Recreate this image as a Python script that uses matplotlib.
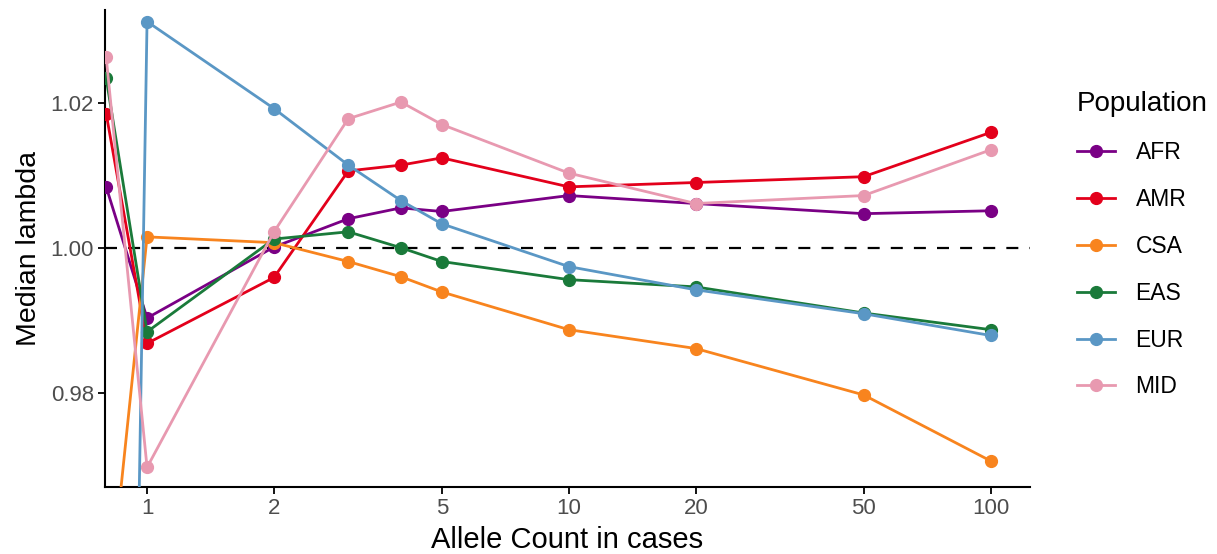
import matplotlib
matplotlib.use("Agg")
import matplotlib.pyplot as plt
from matplotlib.lines import Line2D

plt.rcParams["font.family"] = ["Liberation Sans", "DejaVu Sans"]

# ---- data ----
allele_count = [0.8, 1, 2, 3, 4, 5, 10, 20, 50, 100]
populations = ["AFR", "AMR", "CSA", "EAS", "EUR", "MID"]
colors = ["#7A0085", "#E3001B", "#F8841E", "#1A7A3A", "#5A97C5", "#E899B0"]

afr = [1.0084, 0.9903, 1.0001, 1.0040, 1.0055, 1.0050, 1.0072, 1.0061, 1.0047, 1.0051]
amr = [1.0185, 0.9868, 0.9959, 1.0106, 1.0114, 1.0124, 1.0084, 1.0090, 1.0098, 1.0159]
csa = [0.9472, 1.0015, 1.0007, 0.9981, 0.9960, 0.9939, 0.9887, 0.9861, 0.9797, 0.9706]
eas = [1.0234, 0.9884, 1.0012, 1.0022, 1.0000, 0.9981, 0.9956, 0.9946, 0.9910, 0.9887]
eur = [0.6920, 1.0312, 1.0192, 1.0114, 1.0065, 1.0033, 0.9974, 0.9942, 0.9909, 0.9879]
mid = [1.0263, 0.9697, 1.0022, 1.0178, 1.0201, 1.0170, 1.0103, 1.0061, 1.0072, 1.0135]
series = [afr, amr, csa, eas, eur, mid]

x_ticks = [1, 2, 5, 10, 20, 50, 100]
y_ticks = [0.98, 1.00, 1.02]

fig = plt.figure(figsize=(12.17, 5.54), dpi=100)
ax = fig.add_axes([0.0863, 0.121, 0.7600, 0.861])

ax.axhline(1.0, color="black", lw=1.6, ls=(0, (5.4, 5)), zorder=1)
for name, col, vals in zip(populations, colors, series):
    ax.plot(allele_count, vals, color=col, lw=2.0, marker="o", ms=8.5,
            label=name, zorder=3)

ax.set_xscale("log")
ax.set_xlim(0.795, 124)
ax.set_ylim(0.967, 1.0328)
ax.set_xticks(x_ticks)
ax.set_xticklabels([str(t) for t in x_ticks])
ax.minorticks_off()
ax.set_yticks(y_ticks)
ax.set_yticklabels(["0.98", "1.00", "1.02"])

for side in ["top", "right"]:
    ax.spines[side].set_visible(False)
for side in ["left", "bottom"]:
    ax.spines[side].set_linewidth(1.5)
ax.tick_params(axis="both", length=5, width=1.3, labelsize=16,
               labelcolor="#4D4D4D", pad=3)

ax.set_xlabel("Allele Count in cases", fontsize=21, labelpad=5)
ax.set_ylabel("Median lambda", fontsize=20.5, labelpad=6)

handles = [Line2D([0], [0], color=c, lw=2.0, marker="o", ms=8.5) for c in colors]
leg = fig.legend(handles, populations, loc="upper left",
                 bbox_to_anchor=(0.885, 0.835), frameon=False,
                 borderpad=0, borderaxespad=0,
                 title="Population", title_fontsize=20, fontsize=16.5,
                 handlelength=1.65, labelspacing=1.04, handletextpad=0.9)
leg._legend_box.align = "left"

fig.savefig("out.png", dpi=100, facecolor="white")
